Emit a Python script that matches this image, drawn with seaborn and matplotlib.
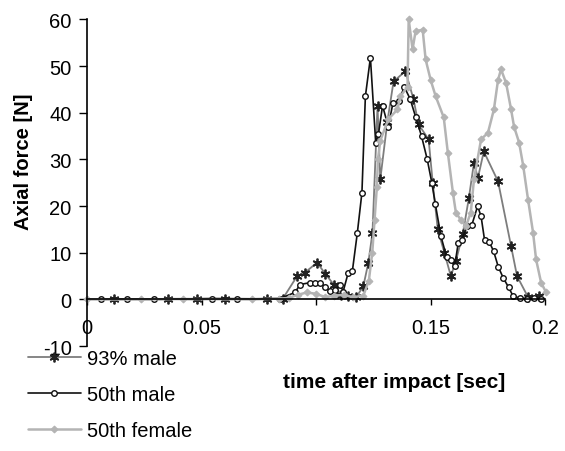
import matplotlib

matplotlib.use("Agg")

import matplotlib.pyplot as plt
import seaborn as sns

# time [s] / axial force [N]
t_male93 = [0.0118, 0.0355, 0.0482, 0.0601, 0.0785, 0.0855, 0.0917, 0.095, 0.1004, 0.104,
            0.108, 0.111, 0.114, 0.1175, 0.1206, 0.1228, 0.1246, 0.1268, 0.128, 0.1311,
            0.1338, 0.139, 0.1425, 0.1447, 0.1491, 0.1509, 0.1531, 0.156, 0.1588, 0.161,
            0.164, 0.1667, 0.1689, 0.1706, 0.1732, 0.1794, 0.1851, 0.1877, 0.1925, 0.1974]
f_male93 = [0.0, 0.1, 0.0, 0.2, 0.1, 0.2, 5.0, 5.7, 7.9, 5.5,
            3.0, 1.0, 0.8, 0.5, 2.8, 7.9, 14.3, 41.4, 25.7, 38.1,
            46.7, 48.9, 42.9, 37.5, 34.3, 25.0, 15.0, 10.0, 5.0, 8.2,
            14.0, 21.8, 29.3, 26.0, 31.7, 25.3, 11.4, 5.0, 0.5, 0.7]

t_male50 = [0.0061, 0.0175, 0.0294, 0.0544, 0.0654, 0.0842, 0.0908, 0.093, 0.0974, 0.0996,
            0.1018, 0.104, 0.106, 0.1083, 0.1105, 0.1118, 0.114, 0.1158, 0.118, 0.120,
            0.1215, 0.1237, 0.126, 0.1272, 0.129, 0.1315, 0.1335, 0.136, 0.1385, 0.141,
            0.1435, 0.146, 0.1485, 0.1505, 0.152, 0.1545, 0.157, 0.159, 0.1605, 0.162,
            0.1635, 0.166, 0.168, 0.1705, 0.172, 0.1735, 0.1755, 0.1775, 0.1795, 0.1816,
            0.184, 0.186, 0.189, 0.192, 0.195, 0.198]
f_male50 = [0.0, 0.1, 0.0, 0.2, 0.1, 0.2, 1.5, 3.2, 3.6, 3.6,
            3.6, 2.6, 1.8, 2.1, 3.2, 1.7, 5.7, 6.0, 14.3, 22.9,
            43.5, 51.8, 33.6, 35.4, 41.5, 37.0, 42.0, 42.5, 45.5, 43.0,
            39.0, 35.0, 30.0, 25.0, 20.5, 13.5, 9.0, 8.5, 7.2, 12.0,
            12.8, 15.7, 16.0, 20.0, 17.8, 12.8, 12.4, 10.3, 7.0, 4.7,
            2.6, 0.7, 0.3, 0.2, 0.3, 0.1]

t_female50 = [0.0, 0.0237, 0.0417, 0.0719, 0.084, 0.088, 0.092, 0.096, 0.1, 0.104,
              0.108, 0.112, 0.116, 0.1206, 0.123, 0.1245, 0.1255, 0.1265, 0.127, 0.128,
              0.1315, 0.1355, 0.1368, 0.1399, 0.1404, 0.1421, 0.1434, 0.1465, 0.1478, 0.15,
              0.1522, 0.1557, 0.1575, 0.1597, 0.161, 0.1632, 0.1654, 0.1675, 0.1689, 0.172,
              0.175, 0.1776, 0.1794, 0.1807, 0.1829, 0.1851, 0.1864, 0.1886, 0.1904, 0.1925,
              0.1947, 0.196, 0.1982, 0.2004]
f_female50 = [0.0, 0.0, 0.1, 0.0, 0.2, 0.3, 1.0, 1.5, 1.2, 0.5,
              0.8, 1.0, 0.5, 0.8, 4.0, 10.0, 17.0, 24.0, 30.0, 34.0,
              38.6, 40.7, 43.5, 45.6, 60.0, 53.6, 57.4, 57.8, 51.4, 47.0,
              43.5, 39.0, 31.4, 22.9, 18.6, 17.0, 15.7, 18.6, 25.7, 34.3,
              35.7, 40.7, 47.0, 49.3, 46.4, 40.7, 37.0, 33.6, 28.6, 21.4,
              14.3, 8.6, 3.6, 1.5]

x_ticks = [0, 0.05, 0.1, 0.15, 0.2]
x_tick_labels = ["0", "0.05", "0.1", "0.15", "0.2"]
y_ticks = [-10, 0, 10, 20, 30, 40, 50, 60]

sns.set_theme(style="ticks", rc={"text.color": "black", "axes.labelcolor": "black",
                                 "axes.unicode_minus": False})
plt.rcParams["font.family"] = ["Liberation Sans", "DejaVu Sans"]

fig = plt.figure(figsize=(5.65, 4.52), dpi=100)
ax = fig.add_axes([0.154, 0.232, 0.811, 0.723])

sns.lineplot(x=t_male93, y=f_male93, ax=ax, color="#7d7d7d", lw=1.3,
             marker=(6, 2, 0), ms=7, mec="#222222", mew=1.3, clip_on=False,
             label="93% male")
sns.lineplot(x=t_male50, y=f_male50, ax=ax, color="#111111", lw=1.2,
             marker="o", ms=4, mfc="white", mec="#111111", mew=1.0, clip_on=False,
             label="50th male")
sns.lineplot(x=t_female50, y=f_female50, ax=ax, color="#b4b4b4", lw=1.8,
             marker="D", ms=3.5, mfc="#b4b4b4", mec="#b4b4b4", clip_on=False,
             label="50th female")

ax.set_xlim(0, 0.2)
ax.set_ylim(-10, 60)
ax.set_xticks(x_ticks)
ax.set_xticklabels(x_tick_labels)
ax.set_yticks(y_ticks)

ax.spines["top"].set_visible(False)
ax.spines["right"].set_visible(False)
ax.spines["bottom"].set_position(("data", 0))
for side in ["left", "bottom"]:
    ax.spines[side].set_color("black")
    ax.spines[side].set_linewidth(1.2)

ax.tick_params(axis="x", direction="out", length=4, width=1, pad=9,
               labelsize=14.5, colors="black")
ax.tick_params(axis="y", direction="out", length=6, width=1, pad=5,
               labelsize=14.5, colors="black")

ax.set_xlabel("time after impact [sec]", fontsize=15, fontweight="bold")
ax.xaxis.set_label_coords(0.67, -0.08)
ax.set_ylabel("Axial force [N]", fontsize=14.5, fontweight="bold")
ax.yaxis.set_label_coords(-0.118, 0.566)

ax.get_legend().remove()
handles, labels = ax.get_legend_handles_labels()
fig.legend(handles, labels, loc="upper left", bbox_to_anchor=(0.05, 0.226),
           frameon=False, fontsize=14.5, handlelength=2.6, handletextpad=0.3,
           labelspacing=0.85, borderpad=0, borderaxespad=0)

fig.savefig("out.png", dpi=100)
